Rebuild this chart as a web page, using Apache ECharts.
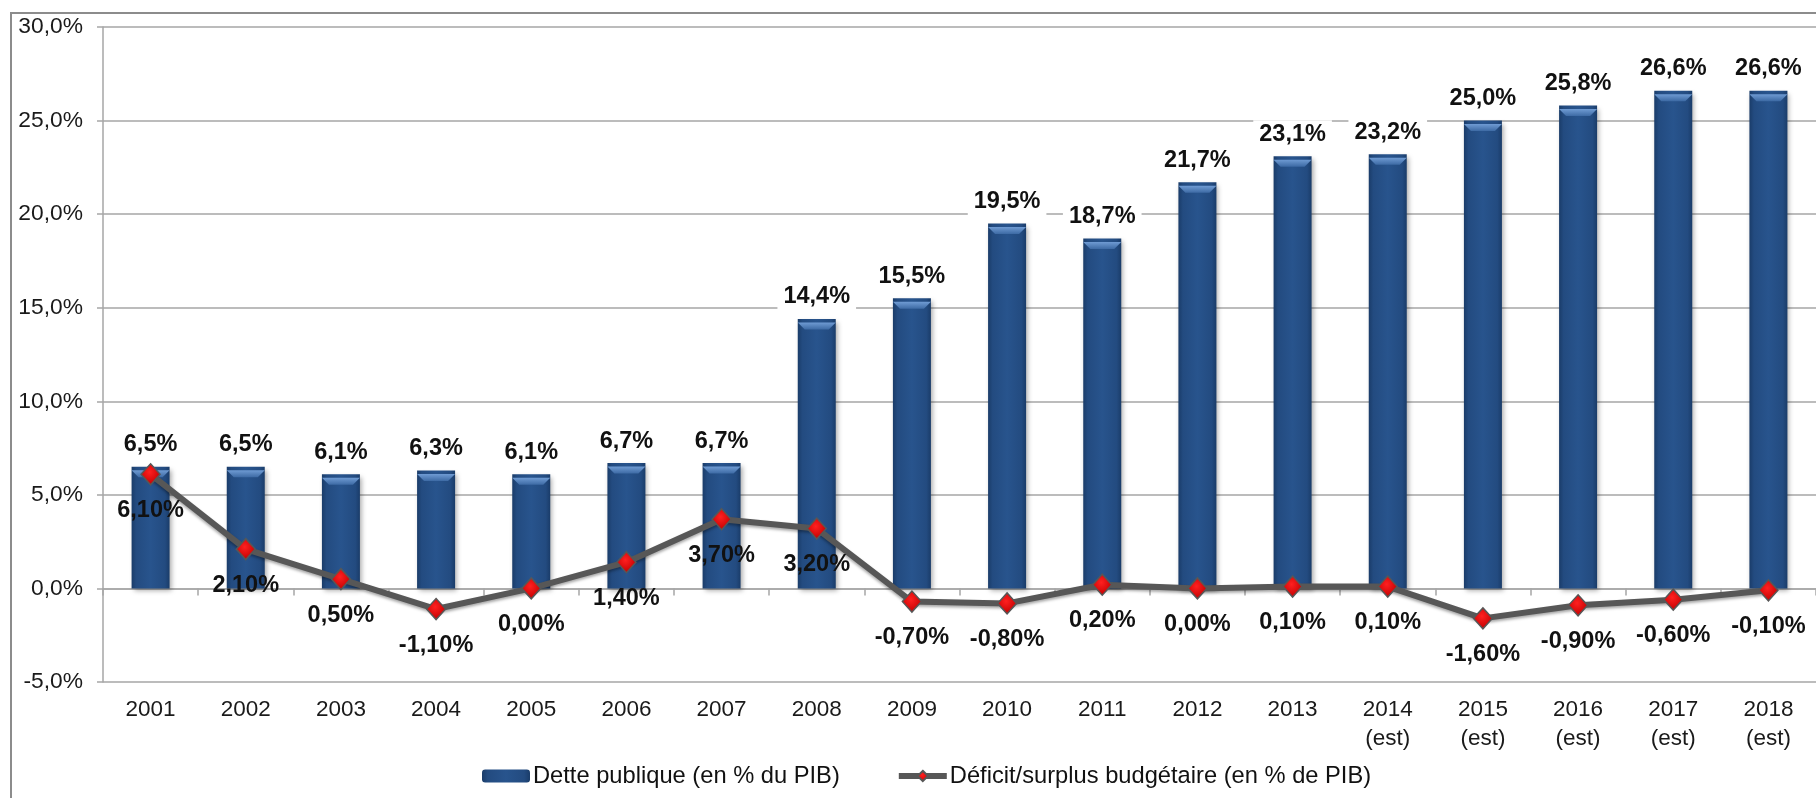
<!DOCTYPE html>
<html>
<head>
<meta charset="utf-8">
<script src="https://cdn.jsdelivr.net/npm/echarts@6/dist/echarts.min.js"></script>
<style>
  html, body { margin: 0; padding: 0; background: #fff; }
  #chart { width: 1816px; height: 798px; }
</style>
</head>
<body>
<div id="chart"></div>
<script>
// Years shown on the category axis
const years = ['2001', '2002', '2003', '2004', '2005', '2006', '2007', '2008', '2009',
  '2010', '2011', '2012', '2013', '2014\n(est)', '2015\n(est)', '2016\n(est)', '2017\n(est)', '2018\n(est)'];

// Public debt, % of GDP
const detteValues = [6.5, 6.5, 6.1, 6.3, 6.1, 6.7, 6.7, 14.4, 15.5, 19.5, 18.7, 21.7, 23.1, 23.2, 25.0, 25.8, 26.6, 26.6];

// Budget deficit / surplus, % of GDP
const soldeValues = [6.1, 2.1, 0.5, -1.1, 0.0, 1.4, 3.7, 3.2, -0.7, -0.8, 0.2, 0.0, 0.1, 0.1, -1.6, -0.9, -0.6, -0.1];

// Value axis ticks
const yTicks = { min: -5, max: 30, interval: 5 };

const seriesNames = ['Dette publique (en % du PIB)', 'Déficit/surplus budgétaire (en % de PIB)'];

const fr = (v, d) => v.toFixed(d).replace('.', ',') + '%';
const FONT = 'Liberation Sans, Arial, sans-serif';

const chart = echarts.init(document.getElementById('chart'));

const barBody = new echarts.graphic.LinearGradient(0, 0, 1, 0, [
  { offset: 0, color: '#1a3c69' },
  { offset: 0.12, color: '#234b80' },
  { offset: 0.5, color: '#28548d' },
  { offset: 0.88, color: '#234b80' },
  { offset: 1, color: '#1a3c69' }
]);

const diamondFill = new echarts.graphic.RadialGradient(0.45, 0.4, 0.6, [
  { offset: 0, color: '#ff2020' },
  { offset: 1, color: '#c00000' }
]);

chart.setOption({
  animation: false,
  textStyle: { fontFamily: FONT },
  graphic: [{
    type: 'rect',
    shape: { x: 11, y: 13, width: 1900, height: 900 },
    style: { fill: 'none', stroke: '#8c8c8c', lineWidth: 2 },
    silent: true,
    z: 100
  }],
  grid: { left: 103, top: 27, right: 0, bottom: 116, containLabel: false, outerBoundsMode: 'none' },
  legend: {
    data: [
      { name: seriesNames[0] },
      { name: seriesNames[1], lineStyle: { width: 6, color: '#575757' } }
    ],
    left: 477,
    top: 759,
    itemWidth: 48,
    itemHeight: 13,
    itemGap: 56,
    textStyle: { fontFamily: FONT, fontSize: 23.7, color: '#111', padding: [0, 0, 0, -2] }
  },
  xAxis: {
    type: 'category',
    data: years,
    axisLine: { onZero: true, lineStyle: { color: '#a6a6a6', width: 1.5 } },
    axisTick: { show: true, length: 7, lineStyle: { color: '#a6a6a6', width: 1.5 } },
    axisLabel: {
      margin: 13,
      fontSize: 22.5,
      lineHeight: 29,
      color: '#1a1a1a',
      fontFamily: FONT,
      interval: 0
    }
  },
  yAxis: {
    type: 'value',
    min: yTicks.min,
    max: yTicks.max,
    interval: yTicks.interval,
    axisLine: { show: true, lineStyle: { color: '#a6a6a6', width: 1.5 } },
    axisTick: { show: true, length: 6, lineStyle: { color: '#a6a6a6', width: 1.5 } },
    splitLine: { lineStyle: { color: '#a6a6a6', width: 1.5 } },
    axisLabel: {
      margin: 20,
      fontSize: 22.8,
      color: '#1a1a1a',
      fontFamily: FONT,
      formatter: v => fr(v, 1)
    }
  },
  series: [
    {
      name: seriesNames[0],
      type: 'bar',
      data: detteValues,
      barWidth: 38,
      itemStyle: {
        color: barBody,
        shadowColor: 'rgba(0,0,0,0.35)',
        shadowBlur: 5,
        shadowOffsetX: 2,
        shadowOffsetY: 3
      },
      label: {
        show: true,
        position: 'top',
        distance: 8,
        fontSize: 23.5,
        fontWeight: 'bold',
        color: '#111',
        fontFamily: FONT,
        backgroundColor: '#fff',
        padding: [2, 6],
        formatter: p => fr(p.value, 1)
      },
      z: 2
    },
    {
      // bevelled top edge of each bar
      type: 'pictorialBar',
      data: detteValues,
      barWidth: 38,
      barGap: '-100%',
      symbol: 'path://M0,0 L38,0 L31,7 L7,7 Z',
      symbolSize: [38, 7],
      symbolPosition: 'end',
      symbolOffset: [0, '50%'],
      itemStyle: {
        color: new echarts.graphic.LinearGradient(0, 0, 0, 1, [
          { offset: 0, color: '#6f9bd3' },
          { offset: 1, color: '#3d6aa4' }
        ])
      },
      silent: true,
      z: 3
    },
    {
      name: seriesNames[1],
      type: 'line',
      data: soldeValues,
      symbol: 'diamond',
      symbolSize: [19, 21],
      lineStyle: {
        color: '#575757',
        width: 6,
        shadowColor: 'rgba(0,0,0,0.35)',
        shadowBlur: 3,
        shadowOffsetY: 2
      },
      itemStyle: {
        color: diamondFill,
        borderColor: '#575757',
        borderWidth: 1.5
      },
      label: {
        show: true,
        position: 'bottom',
        distance: 13,
        fontSize: 23.5,
        fontWeight: 'bold',
        color: '#111',
        fontFamily: FONT,
        formatter: p => fr(p.value, 2)
      },
      z: 5
    }
  ]
});
</script>
</body>
</html>
